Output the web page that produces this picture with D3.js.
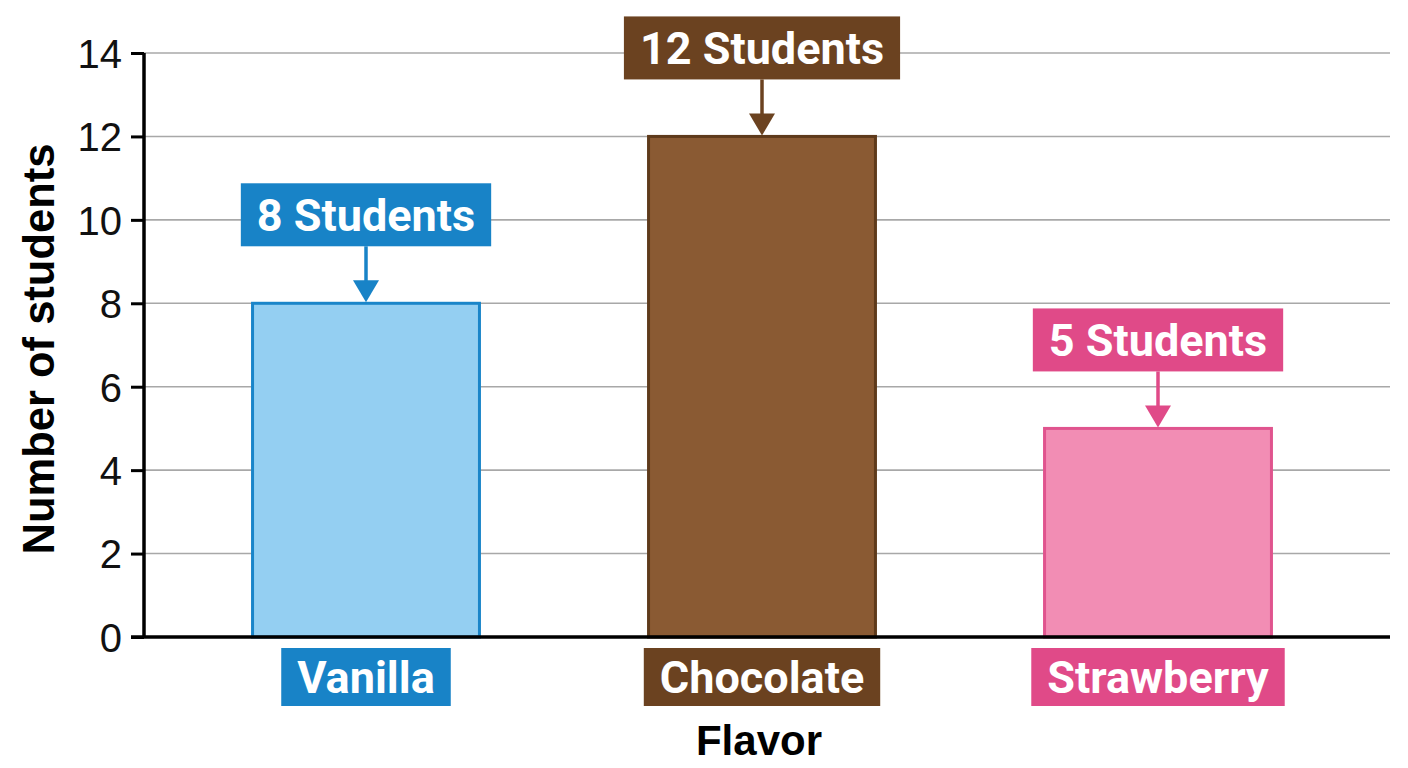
<!DOCTYPE html>
<html>
<head>
<meta charset="utf-8">
<script src="https://cdn.jsdelivr.net/npm/d3@7"></script>
<style>
  html, body { margin: 0; padding: 0; background: #fff; }
  svg { display: block; }
</style>
</head>
<body>
<svg id="chart"></svg>
<script>
// Data
const flavors = ["Vanilla", "Chocolate", "Strawberry"];
const students = [8, 12, 5];
const yTicks = [0, 2, 4, 6, 8, 10, 12, 14];

// Per-flavor colours: bar fill, bar outline, label box
const barFill = ["#94cff2", "#8a5a33", "#f28db4"];
const barStroke = ["#1a85c9", "#5e3a1b", "#e0548e"];
const tagFill = ["#1883c7", "#6b4220", "#e04a88"];

const width = 1408, height = 768;
const margin = { top: 53, right: 18, bottom: 131, left: 144 };

const svg = d3.select("#chart").attr("width", width).attr("height", height);

const y = d3.scaleLinear()
    .domain([0, 14])
    .range([height - margin.bottom, margin.top]);

const x = d3.scaleBand()
    .domain(flavors)
    .range([168, 1356])
    .paddingInner(0.427)
    .paddingOuter(0.2135);

const plotRight = width - margin.right;

// Gridlines
svg.append("g")
    .selectAll("line")
    .data(yTicks.filter(d => d > 0))
    .join("line")
    .attr("x1", margin.left)
    .attr("x2", plotRight)
    .attr("y1", d => y(d))
    .attr("y2", d => y(d))
    .attr("stroke", "#a8a8a8")
    .attr("stroke-width", 1.6);

// Bars
svg.append("g")
    .selectAll("rect")
    .data(flavors)
    .join("rect")
    .attr("x", d => x(d))
    .attr("y", (d, i) => y(students[i]))
    .attr("width", x.bandwidth())
    .attr("height", (d, i) => y(0) - y(students[i]))
    .attr("fill", (d, i) => barFill[i])
    .attr("stroke", (d, i) => barStroke[i])
    .attr("stroke-width", 3);

// Y axis
const yAxis = svg.append("g")
    .attr("transform", `translate(${margin.left},0)`)
    .call(d3.axisLeft(y).tickValues(yTicks).tickSize(13).tickPadding(9).tickFormat(d3.format("d")));
yAxis.select(".domain").attr("stroke", "#000").attr("stroke-width", 3.5)
    .attr("d", `M0,${y(14)}V${y(0)}`);
yAxis.selectAll(".tick line").attr("stroke", "#000").attr("stroke-width", 3);
yAxis.selectAll(".tick text")
    .attr("fill", "#111")
    .attr("font-family", "'Liberation Sans', Arial, sans-serif")
    .attr("font-size", 40)
    .attr("dy", "0.36em");

// X axis baseline
svg.append("line")
    .attr("x1", margin.left - 13)
    .attr("x2", plotRight)
    .attr("y1", y(0))
    .attr("y2", y(0))
    .attr("stroke", "#000")
    .attr("stroke-width", 3.5);

const tagFont = "Roboto, 'Noto Sans', sans-serif";

// Value callouts with arrows
const callouts = svg.append("g")
    .selectAll("g")
    .data(flavors)
    .join("g");

callouts.each(function(d, i) {
    const g = d3.select(this);
    const cx = x(d) + x.bandwidth() / 2;
    const top = y(students[i]);
    const boxBottom = top - 57;
    const boxH = 63;
    const txt = g.append("text")
        .attr("x", cx)
        .attr("y", boxBottom - boxH / 2)
        .attr("dy", "0.36em")
        .attr("text-anchor", "middle")
        .attr("fill", "#fff")
        .attr("font-family", tagFont)
        .attr("font-weight", 700)
        .attr("font-size", 45)
        .text(`${students[i]} Students`);
    const w = txt.node().getComputedTextLength() + 32;
    g.insert("rect", "text")
        .attr("x", cx - w / 2)
        .attr("y", boxBottom - boxH)
        .attr("width", w)
        .attr("height", boxH)
        .attr("fill", tagFill[i]);
    g.append("line")
        .attr("x1", cx).attr("x2", cx)
        .attr("y1", boxBottom)
        .attr("y2", top - 18)
        .attr("stroke", tagFill[i])
        .attr("stroke-width", 3.5);
    g.append("path")
        .attr("d", `M${cx - 13},${top - 23}L${cx + 13},${top - 23}L${cx},${top - 1}Z`)
        .attr("fill", tagFill[i]);
});

// Category tags under the axis
const tags = svg.append("g")
    .selectAll("g")
    .data(flavors)
    .join("g");

tags.each(function(d, i) {
    const g = d3.select(this);
    const cx = x(d) + x.bandwidth() / 2;
    const boxTop = 648, boxH = 58;
    const txt = g.append("text")
        .attr("x", cx)
        .attr("y", boxTop + boxH / 2)
        .attr("dy", "0.36em")
        .attr("text-anchor", "middle")
        .attr("fill", "#fff")
        .attr("font-family", tagFont)
        .attr("font-weight", 700)
        .attr("font-size", 45)
        .text(d);
    const w = txt.node().getComputedTextLength() + 32;
    g.insert("rect", "text")
        .attr("x", cx - w / 2)
        .attr("y", boxTop)
        .attr("width", w)
        .attr("height", boxH)
        .attr("fill", tagFill[i]);
});

// Axis titles
svg.append("text")
    .attr("x", 759)
    .attr("y", 755)
    .attr("text-anchor", "middle")
    .attr("font-family", "'Liberation Sans', Arial, sans-serif")
    .attr("font-weight", 700)
    .attr("font-size", 42)
    .attr("fill", "#000")
    .text("Flavor");

svg.append("text")
    .attr("transform", `translate(54,${(y(0) + y(14)) / 2 + 4}) rotate(-90)`)
    .attr("text-anchor", "middle")
    .attr("font-family", "'Liberation Sans', Arial, sans-serif")
    .attr("font-weight", 700)
    .attr("font-size", 43.5)
    .attr("fill", "#000")
    .text("Number of students");
</script>
</body>
</html>
